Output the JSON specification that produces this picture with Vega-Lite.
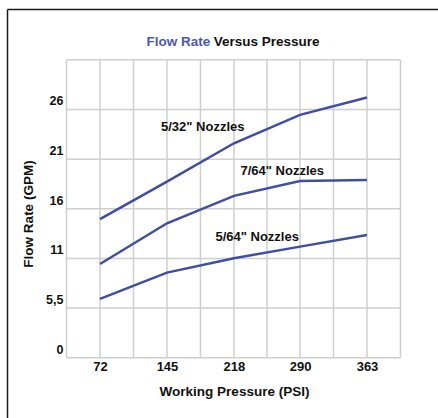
{
  "$schema": "https://vega.github.io/schema/vega-lite/v6.json",
  "width": 431,
  "height": 409,
  "autosize": "none",
  "padding": {"left": 7, "top": 9, "right": 0, "bottom": 0},
  "background": "white",
  "config": {"view": {"stroke": null}, "font": "Liberation Sans"},
  "datasets": {
    "flow": [
      {"nozzle": "5/32\"", "pressure": 72, "flow": 14.95},
      {"nozzle": "5/32\"", "pressure": 145, "flow": 18.74},
      {"nozzle": "5/32\"", "pressure": 218, "flow": 22.6},
      {"nozzle": "5/32\"", "pressure": 290, "flow": 25.46},
      {"nozzle": "5/32\"", "pressure": 363, "flow": 27.2},
      {"nozzle": "7/64\"", "pressure": 72, "flow": 10.44},
      {"nozzle": "7/64\"", "pressure": 145, "flow": 14.54},
      {"nozzle": "7/64\"", "pressure": 218, "flow": 17.3},
      {"nozzle": "7/64\"", "pressure": 290, "flow": 18.8},
      {"nozzle": "7/64\"", "pressure": 363, "flow": 18.9},
      {"nozzle": "5/64\"", "pressure": 72, "flow": 6.92},
      {"nozzle": "5/64\"", "pressure": 145, "flow": 9.57},
      {"nozzle": "5/64\"", "pressure": 218, "flow": 11.02},
      {"nozzle": "5/64\"", "pressure": 290, "flow": 12.19},
      {"nozzle": "5/64\"", "pressure": 363, "flow": 13.37}
    ],
    "gridx": [
      {"p": 35.5}, {"p": 72}, {"p": 108.5}, {"p": 145}, {"p": 181.5}, {"p": 218},
      {"p": 254}, {"p": 290}, {"p": 326.5}, {"p": 363}, {"p": 399.5}
    ],
    "gridy": [
      {"g": 1}, {"g": 6}, {"g": 11}, {"g": 16}, {"g": 21}, {"g": 26}, {"g": 31}
    ],
    "notes": [
      {"pressure": 184, "flow": 24.2, "text": "5/32\" Nozzles"},
      {"pressure": 270.6, "flow": 19.85, "text": "7/64\" Nozzles"},
      {"pressure": 243.3, "flow": 13.19, "text": "5/64\" Nozzles"}
    ]
  },
  "layer": [
    {
      "data": {"name": "gridx"},
      "mark": {"type": "rule", "color": "#cfcfcf", "strokeWidth": 1.5},
      "encoding": {
        "x": {
          "field": "p", "type": "quantitative",
          "scale": {"domain": [-29.36, 440.38], "nice": false, "zero": false},
          "axis": {
            "orient": "top", "domain": true, "domainColor": "#1a1a1a", "domainWidth": 1.5,
            "ticks": false, "labels": false, "grid": false,
            "title": "Flow Rate", "titleColor": "#4a5aab", "titleFontSize": 13.5, "titleFontWeight": "bold",
            "titleX": 139, "titleY": 36.3, "titleAlign": "left", "titleBaseline": "alphabetic", "titleAngle": 0
          }
        },
        "y": {"datum": 1, "type": "quantitative", "scale": {"domain": [-5.07, 36.12], "nice": false, "zero": false}, "axis": null},
        "y2": {"datum": 31}
      }
    },
    {
      "data": {"name": "gridy"},
      "mark": {"type": "rule", "color": "#cfcfcf", "strokeWidth": 1.5},
      "encoding": {
        "y": {
          "field": "g", "type": "quantitative",
          "scale": {"domain": [-5.07, 36.12], "nice": false, "zero": false},
          "axis": {
            "orient": "left", "domain": true, "domainColor": "#1a1a1a", "domainWidth": 1.5,
            "ticks": false, "labels": false, "grid": false,
            "title": "Versus Pressure", "titleColor": "#111111", "titleFontSize": 13.5, "titleFontWeight": "bold",
            "titleX": 206.3, "titleY": 36.3, "titleAlign": "left", "titleBaseline": "alphabetic", "titleAngle": 0
          }
        },
        "x": {"datum": 35.5, "type": "quantitative", "scale": {"domain": [-29.36, 440.38], "nice": false, "zero": false}, "axis": null},
        "x2": {"datum": 399.5}
      }
    },
    {
      "data": {"name": "flow"},
      "mark": {"type": "line", "color": "#3f4ea3", "strokeWidth": 2.5},
      "encoding": {
        "x": {
          "field": "pressure", "type": "quantitative",
          "scale": {"domain": [-29.36, 440.38], "nice": false, "zero": false},
          "axis": {
            "orient": "bottom", "offset": -60.3, "domain": false, "ticks": false, "grid": false,
            "values": [72, 145, 218, 290, 363],
            "labelFontSize": 13, "labelFontWeight": "bold", "labelColor": "#111111", "labelPadding": 3,
            "title": "Working Pressure (PSI)", "titleFontSize": 13.5, "titleFontWeight": "bold", "titleColor": "#111111",
            "titleX": 227, "titleY": 34, "titleAlign": "center", "titleBaseline": "middle"
          }
        },
        "y": {
          "field": "flow", "type": "quantitative",
          "scale": {"domain": [-5.07, 36.12], "nice": false, "zero": false},
          "axis": {
            "orient": "left", "offset": -60, "domain": false, "ticks": false, "grid": false,
            "values": [1, 6, 11, 16, 21, 26],
            "labelExpr": "datum.value == 1 ? '0' : datum.value == 6 ? '5,5' : datum.label",
            "labelFontSize": 12.5, "labelFontWeight": "bold", "labelColor": "#111111",
            "labelBaseline": "bottom", "labelOffset": -1.5, "labelPadding": 4,
            "title": "Flow Rate (GPM)", "titleFontSize": 13.5, "titleFontWeight": "bold", "titleColor": "#111111",
            "titleX": -38.7, "titleBaseline": "middle"
          }
        },
        "detail": {"field": "nozzle", "type": "nominal"}
      }
    },
    {
      "data": {"name": "notes"},
      "mark": {"type": "text", "fontSize": 13, "fontWeight": "bold", "color": "#111111", "align": "center", "baseline": "middle"},
      "encoding": {
        "x": {"field": "pressure", "type": "quantitative", "scale": {"domain": [-29.36, 440.38], "nice": false, "zero": false}, "axis": null},
        "y": {"field": "flow", "type": "quantitative", "scale": {"domain": [-5.07, 36.12], "nice": false, "zero": false}, "axis": null},
        "text": {"field": "text"}
      }
    }
  ],
  "resolve": {"axis": {"x": "independent", "y": "independent"}}
}
